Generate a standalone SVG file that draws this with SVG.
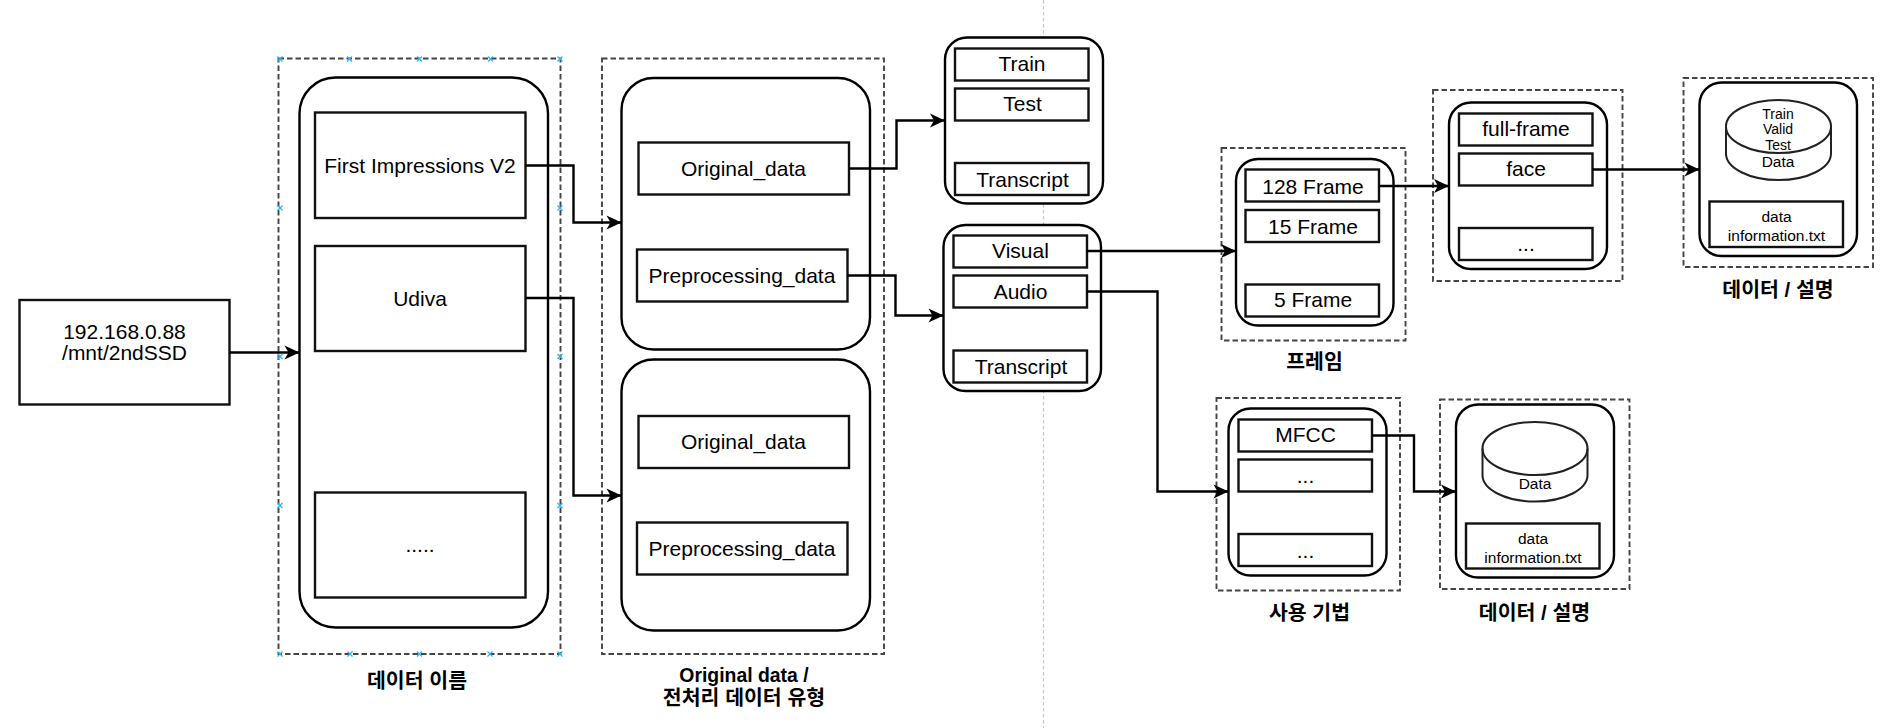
<svg xmlns="http://www.w3.org/2000/svg" width="1899" height="728" viewBox="0 0 1899 728">
<style>
text{font-family:"Liberation Sans","Noto Sans CJK KR",sans-serif;font-size:21px;text-anchor:middle;fill:#000}
.s{font-size:15.5px}.t{font-size:14px}
.l{font-weight:bold;font-size:20.5px}
.n{font-weight:bold;font-size:19.4px}
.d{fill:none;stroke:#444;stroke-width:1.9;stroke-dasharray:5.5 3}
.o,.b{fill:#fff;stroke:#000;stroke-width:2.4}
.c{fill:#fff;stroke:#222;stroke-width:2}
.b{stroke:#111}
.e{fill:none;stroke:#000;stroke-width:2.4;marker-end:url(#a)}
.m{fill:none;stroke:#29b6f2;stroke-width:1.2}
</style>
<defs>
<marker id="a" markerUnits="userSpaceOnUse" markerWidth="16" markerHeight="16" refX="15" refY="7" orient="auto" overflow="visible"><path d="M15 7L0 0L4 7L0 14Z" fill="#000"/></marker>
<path id="x" d="M-2.5-2.5L2.5 2.5M-2.5 2.5L2.5-2.5"/>
</defs>
<rect width="1899" height="728" fill="#fff"/>
<path d="M1043.5 0V728" fill="none" stroke="#c8c8c8" stroke-width="1.2" stroke-dasharray="3.6 2.4"/>

<g id="source"><rect class="b" x="19.5" y="300" width="210" height="104.5"/><text x="124.5" y="338.5">192.168.0.88</text><text x="124.5" y="360">/mnt/2ndSSD</text></g>

<g id="dataset-names">
<rect class="d" x="278.5" y="58.5" width="282" height="595.5"/>
<rect class="o" x="299.5" y="77.5" width="248.5" height="550" rx="36"/>
<g id="first-impressions"><rect class="b" x="315" y="112.5" width="210.5" height="105.5"/><text x="420" y="172.5">First Impressions V2</text></g>
<g id="udiva"><rect class="b" x="315" y="246" width="210.5" height="105"/><text x="420" y="305.5">Udiva</text></g>
<g id="more-datasets"><rect class="b" x="315" y="492.5" width="210.5" height="105"/><text x="420" y="552">.....</text></g>
<g class="m">
<use href="#x" x="280" y="59"/><use href="#x" x="349.5" y="59"/><use href="#x" x="419.5" y="59"/><use href="#x" x="490.5" y="59"/><use href="#x" x="560" y="59"/>
<use href="#x" x="280" y="208"/><use href="#x" x="560" y="208"/><use href="#x" x="280" y="356.5"/><use href="#x" x="560" y="356.5"/><use href="#x" x="280" y="505.5"/><use href="#x" x="560" y="505.5"/>
<use href="#x" x="280" y="654"/><use href="#x" x="350" y="654"/><use href="#x" x="419.5" y="654"/><use href="#x" x="490" y="654"/><use href="#x" x="560" y="654"/>
</g>
</g>
<text id="label-names" class="l" x="417" y="688">데이터 이름</text>

<g id="data-types">
<rect class="d" x="602" y="58.5" width="282" height="595.5"/>
<g id="type-upper"><rect class="o" x="621.5" y="78" width="248.5" height="271.5" rx="32"/>
<rect class="b" x="638.5" y="142.5" width="210.5" height="52"/><text x="743.5" y="175.5">Original_data</text>
<rect class="b" x="637" y="249.5" width="210.5" height="52"/><text x="742" y="282.5">Preprocessing_data</text></g>
<g id="type-lower"><rect class="o" x="621.5" y="359.5" width="248.5" height="271" rx="32"/>
<rect class="b" x="638.5" y="416" width="210.5" height="52"/><text x="743.5" y="449">Original_data</text>
<rect class="b" x="637" y="522.5" width="210.5" height="52"/><text x="742" y="555.5">Preprocessing_data</text></g>
</g>
<text id="label-types" class="n" x="744" y="682">Original data /</text>
<text class="l" x="744" y="705">전처리 데이터 유형</text>

<g id="original-splits"><rect class="o" x="945" y="37.5" width="158" height="166" rx="22"/>
<rect class="b" x="955" y="48.5" width="133.5" height="32"/><text x="1022" y="70.5">Train</text>
<rect class="b" x="955" y="88.5" width="133.5" height="32"/><text x="1022.5" y="111">Test</text>
<rect class="b" x="955" y="163" width="133.5" height="32"/><text x="1022.5" y="186.5">Transcript</text></g>

<g id="preprocessed-modes"><rect class="o" x="943.5" y="225" width="157.5" height="166" rx="22"/>
<rect class="b" x="953.5" y="235.5" width="133.5" height="32"/><text x="1020.5" y="257.5">Visual</text>
<rect class="b" x="953.5" y="275.5" width="133.5" height="32"/><text x="1020.5" y="298.5">Audio</text>
<rect class="b" x="953.5" y="350.5" width="133.5" height="32"/><text x="1021" y="373.5">Transcript</text></g>

<g id="frames"><rect class="d" x="1221.5" y="148" width="184" height="192.5"/>
<rect class="o" x="1236" y="159" width="157.5" height="166.5" rx="22"/>
<rect class="b" x="1245.5" y="169.5" width="133.5" height="32"/><text x="1313" y="193.5">128 Frame</text>
<rect class="b" x="1245.5" y="210" width="133.5" height="32"/><text x="1313" y="233.5">15 Frame</text>
<rect class="b" x="1245.5" y="284.5" width="133.5" height="32"/><text x="1313" y="307">5 Frame</text></g>
<text id="label-frames" class="l" x="1314.5" y="369">프레임</text>

<g id="crops"><rect class="d" x="1433" y="90" width="189.5" height="191"/>
<rect class="o" x="1449" y="102.5" width="158" height="166.5" rx="22"/>
<rect class="b" x="1459" y="113.5" width="133.5" height="32"/><text x="1526" y="136">full-frame</text>
<rect class="b" x="1459" y="153.5" width="133.5" height="32"/><text x="1526" y="176">face</text>
<rect class="b" x="1459" y="228" width="133.5" height="32"/><text x="1526" y="251">...</text></g>

<g id="face-data"><rect class="d" x="1683.5" y="78" width="189.5" height="189"/>
<rect class="o" x="1699.5" y="82.5" width="157.5" height="173.5" rx="22"/>
<g id="face-db"><path class="c" d="M1726 126.5A52.5 26.5 0 0 1 1831 126.5V153.5A52.5 26.5 0 0 1 1726 153.5Z"/><path fill="none" stroke="#222" stroke-width="2" d="M1726 126.5A52.5 26.5 0 0 0 1831 126.5"/>
<text class="t" x="1778" y="118.5">Train</text><text class="t" x="1778" y="134">Valid</text><text class="t" x="1778" y="150">Test</text><text class="s" x="1778" y="166.5">Data</text></g>
<rect class="b" x="1709.5" y="201.5" width="133.5" height="45.5"/><text class="s" x="1776.5" y="221.5">data</text><text class="s" x="1776.5" y="240.5">information.txt</text></g>
<text id="label-face" class="l" x="1778" y="297">데이터 / 설명</text>

<g id="methods"><rect class="d" x="1216.5" y="398" width="183.5" height="192.5"/>
<rect class="o" x="1228.5" y="408.5" width="158" height="167" rx="22"/>
<rect class="b" x="1238.5" y="419.5" width="133.5" height="32"/><text x="1305.5" y="441.5">MFCC</text>
<rect class="b" x="1238.5" y="459.5" width="133.5" height="32"/><text x="1305.5" y="483">...</text>
<rect class="b" x="1238.5" y="534" width="133.5" height="32"/><text x="1305.5" y="558">...</text></g>
<text id="label-methods" class="l" x="1309.5" y="620">사용 기법</text>

<g id="mfcc-data"><rect class="d" x="1440" y="399.5" width="189.5" height="189.5"/>
<rect class="o" x="1456" y="404.5" width="158" height="173" rx="22"/>
<g id="mfcc-db"><path class="c" d="M1482.5 448.5A52.5 26.5 0 0 1 1587.5 448.5V475A52.5 26.5 0 0 1 1482.5 475Z"/><path fill="none" stroke="#222" stroke-width="2" d="M1482.5 448.5A52.5 26.5 0 0 0 1587.5 448.5"/>
<text class="s" x="1535" y="488.5">Data</text></g>
<rect class="b" x="1466" y="523.5" width="133.5" height="45"/><text class="s" x="1533" y="543.5">data</text><text class="s" x="1533" y="562.5">information.txt</text></g>
<text id="label-mfcc" class="l" x="1534.5" y="620">데이터 / 설명</text>

<g id="connectors">
<path class="e" d="M229.5 352.5H299.5"/>
<path class="e" d="M525.5 165.5H573.5V222.5H621.5"/>
<path class="e" d="M525.5 298H573.5V495.5H621.5"/>
<path class="e" d="M849 168.5H896.5V120.5H945"/>
<path class="e" d="M847.5 275.5H895.5V315.5H943.5"/>
<path class="e" d="M1087 251H1236"/>
<path class="e" d="M1087 291.5H1157.5V491.5H1228.5"/>
<path class="e" d="M1379 186H1449"/>
<path class="e" d="M1592.5 169.5H1699.5"/>
<path class="e" d="M1372 435.5H1414V491.5H1456"/>
</g>
</svg>
